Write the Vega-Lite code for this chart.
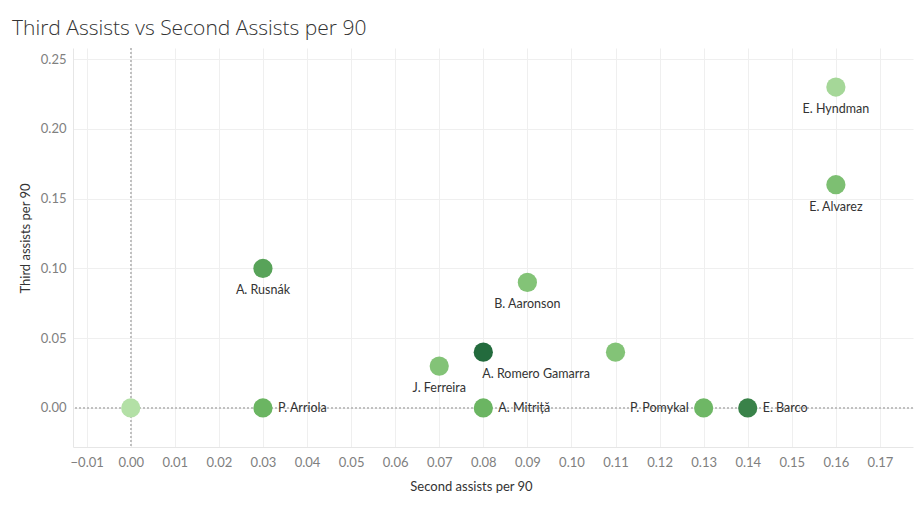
{
  "$schema": "https://vega.github.io/schema/vega-lite/v6.json",
  "width": 840,
  "height": 399,
  "autosize": {"type": "none"},
  "padding": {"left": 73, "top": 48, "right": 5, "bottom": 61},
  "background": "white",
  "config": {
    "view": {"stroke": null},
    "font": "Lato"
  },
  "title": {
    "text": "Third Assists vs Second Assists per 90",
    "anchor": "start",
    "frame": "group",
    "dx": -61,
    "offset": -8,
    "baseline": "alphabetic",
    "font": "Open Sans",
    "fontSize": 21,
    "fontWeight": 300,
    "color": "#333333"
  },
  "data": {
    "values": [
      {"player": "E. Hyndman", "second": 0.16, "third": 0.23, "shade": 0.1},
      {"player": "E. Alvarez", "second": 0.16, "third": 0.16, "shade": 0.38},
      {"player": "A. Rusnák", "second": 0.03, "third": 0.10, "shade": 0.62},
      {"player": "B. Aaronson", "second": 0.09, "third": 0.09, "shade": 0.34},
      {"player": "A. Romero Gamarra", "second": 0.08, "third": 0.04, "shade": 1.0},
      {"player": "", "second": 0.11, "third": 0.04, "shade": 0.34},
      {"player": "J. Ferreira", "second": 0.07, "third": 0.03, "shade": 0.34},
      {"player": "", "second": 0.00, "third": 0.00, "shade": 0.0},
      {"player": "P. Arriola", "second": 0.03, "third": 0.00, "shade": 0.5},
      {"player": "A. Mitriță", "second": 0.08, "third": 0.00, "shade": 0.5},
      {"player": "P. Pomykal", "second": 0.13, "third": 0.00, "shade": 0.48},
      {"player": "E. Barco", "second": 0.14, "third": 0.00, "shade": 0.84}
    ]
  },
  "encoding": {
    "x": {
      "field": "second",
      "type": "quantitative",
      "scale": {"domain": [-0.0131, 0.1775], "nice": false, "zero": false},
      "axis": {
        "title": "Second assists per 90",
        "values": [-0.01, 0, 0.01, 0.02, 0.03, 0.04, 0.05, 0.06, 0.07, 0.08, 0.09, 0.1, 0.11, 0.12, 0.13, 0.14, 0.15, 0.16, 0.17],
        "format": ".2f",
        "grid": true,
        "gridColor": "#efefef",
        "domain": true,
        "domainColor": "#e6e6e6",
        "ticks": false,
        "labelPadding": 9,
        "labelFontSize": 13,
        "labelColor": "#808080",
        "titleFontSize": 13,
        "titleFontWeight": "normal",
        "titleColor": "#333333",
        "titlePadding": 11,
        "titleX": 398
      }
    },
    "y": {
      "field": "third",
      "type": "quantitative",
      "scale": {"domain": [-0.028, 0.258], "nice": false, "zero": false},
      "axis": {
        "title": "Third assists per 90",
        "values": [0, 0.05, 0.1, 0.15, 0.2, 0.25],
        "format": ".2f",
        "grid": true,
        "gridColor": "#efefef",
        "domain": true,
        "domainColor": "#e6e6e6",
        "ticks": false,
        "labelPadding": 7,
        "labelFontSize": 13,
        "labelColor": "#808080",
        "titleFontSize": 13,
        "titleFontWeight": "normal",
        "titleColor": "#333333",
        "titlePadding": 8,
        "titleY": 190
      }
    }
  },
  "layer": [
    {
      "mark": {"type": "rule", "color": "#c0c0c0", "strokeDash": [2, 2], "strokeWidth": 1},
      "encoding": {"x": {"datum": 0}, "y": null}
    },
    {
      "mark": {"type": "rule", "color": "#c0c0c0", "strokeDash": [2, 2], "strokeWidth": 1},
      "encoding": {"y": {"datum": 0}, "x": null}
    },
    {
      "mark": {"type": "circle", "size": 370, "opacity": 1},
      "encoding": {
        "color": {
          "field": "shade",
          "type": "quantitative",
          "scale": {"domain": [0, 0.5, 1], "range": ["#b3e0a6", "#6bb562", "#236b3d"]},
          "legend": null
        }
      }
    },
    {
      "transform": [{"filter": {"field": "player", "oneOf": ["E. Hyndman", "E. Alvarez", "A. Rusnák", "B. Aaronson", "J. Ferreira"]}}],
      "mark": {"type": "text", "dy": 22, "align": "center", "baseline": "middle", "fontSize": 12.5, "color": "#333333"},
      "encoding": {"text": {"field": "player"}}
    },
    {
      "transform": [{"filter": {"field": "player", "equal": "A. Romero Gamarra"}}],
      "mark": {"type": "text", "dy": 22, "dx": -1, "align": "left", "baseline": "middle", "fontSize": 12.5, "color": "#333333"},
      "encoding": {"text": {"field": "player"}}
    },
    {
      "transform": [{"filter": {"field": "player", "oneOf": ["P. Arriola", "A. Mitriță", "E. Barco"]}}],
      "mark": {"type": "text", "dx": 15, "align": "left", "baseline": "middle", "fontSize": 12.5, "color": "#333333"},
      "encoding": {"text": {"field": "player"}}
    },
    {
      "transform": [{"filter": {"field": "player", "equal": "P. Pomykal"}}],
      "mark": {"type": "text", "dx": -15, "align": "right", "baseline": "middle", "fontSize": 12.5, "color": "#333333"},
      "encoding": {"text": {"field": "player"}}
    }
  ]
}
